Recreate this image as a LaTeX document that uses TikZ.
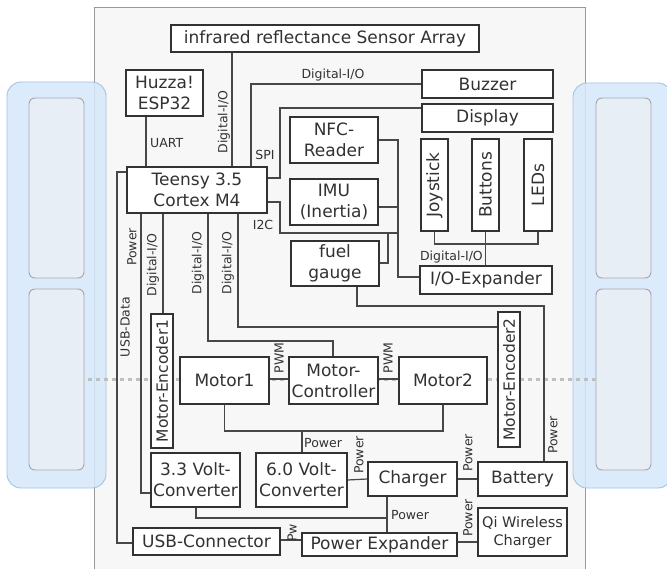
\documentclass[tikz,border=0pt]{standalone}
\usepackage{fontspec}
\setmainfont{DejaVu Sans}
\definecolor{wheelfill}{RGB}{214,232,250}
\definecolor{wheelline}{RGB}{160,196,230}
\definecolor{padfill}{RGB}{232,238,246}
\definecolor{padline}{RGB}{165,165,170}
\definecolor{plate}{RGB}{247,247,247}
\definecolor{ink}{RGB}{50,50,50}
\pgfdeclarelayer{back}
\pgfdeclarelayer{wires}
\pgfsetlayers{back,wires,main}
\begin{document}
\begin{tikzpicture}[x=1pt,y=-1pt,
  blk/.style={draw=ink,line width=1.3pt,fill=white,inner sep=0pt,
    text=ink,font=\fontsize{17}{21}\selectfont,align=center},
  vblk/.style={blk,rotate=90},
  wire/.style={draw=ink!90,line width=1.2pt},
  lbl/.style={text=ink,inner sep=0pt,font=\fontsize{12.5}{15}\selectfont},
  vlbl/.style={lbl,rotate=90},
  pad/.style={draw=padline,line width=0.9pt,fill=padfill,rounded corners=6pt},
  wheel/.style={draw=wheelline,line width=0.9pt,fill=wheelfill,fill opacity=0.85,rounded corners=14pt}]
\useasboundingbox (0,0) rectangle (667,569);

\begin{pgfonlayer}{back}
% chassis plate
\fill[plate] (94.5,7) rectangle (585,572);
\draw[black!40,line width=0.9pt] (94.5,572) -- (94.5,7) -- (585,7) -- (585,572);
% wheels on both sides
\path[wheel] (7,82) rectangle (106,488);
\path[pad] (29,98) rectangle (84,278);
\path[pad] (29,289) rectangle (84,470);
\path[wheel] (573,83) rectangle (672,488);
\path[pad] (596,98) rectangle (651,278);
\path[pad] (596,289) rectangle (651,470);
% axle
\draw[black!25,line width=3pt,dash pattern=on 4pt off 4pt] (88,380) -- (596,380);
\end{pgfonlayer}

% blocks
\node[blk,minimum width=308,minimum height=27] (sensor) at (325,38.5) {infrared reflectance Sensor Array};
\node[blk,minimum width=77,minimum height=46] (huzza) at (164.5,93) {Huzza!\\ESP32};
\node[blk,minimum width=131,minimum height=28] (buzzer) at (487.5,84) {Buzzer};
\node[blk,minimum width=131,minimum height=28] (display) at (487.5,118) {Display};
\node[blk,minimum width=140,minimum height=46] (teensy) at (197,190) {Teensy 3.5\\Cortex M4};
\node[blk,minimum width=88,minimum height=46] (nfc) at (334,140) {NFC-\\Reader};
\node[blk,minimum width=88,minimum height=46] (imu) at (334,202) {IMU\\(Inertia)};
\node[blk,minimum width=88,minimum height=45] (fuel) at (335,263.5) {fuel\\gauge};
\node[vblk,minimum width=92,minimum height=27] (joy) at (434.5,185) {Joystick};
\node[vblk,minimum width=92,minimum height=27] (btn) at (485.5,185) {Buttons};
\node[vblk,minimum width=92,minimum height=28] (led) at (538,185) {LEDs};
\node[blk,minimum width=132,minimum height=28] (ioexp) at (486,280) {I/O-Expander};
\node[vblk,minimum width=134,minimum height=22,font=\fontsize{15.5}{18}\selectfont] (enc1) at (162,381) {Motor-Encoder1};
\node[vblk,minimum width=135,minimum height=22,font=\fontsize{15.5}{18}\selectfont] (enc2) at (509,379.5) {Motor-Encoder2};
\node[blk,minimum width=89,minimum height=47] (motor1) at (224.5,380.5) {Motor1};
\node[blk,minimum width=89,minimum height=47] (mctrl) at (333.5,380.5) {Motor-\\Controller};
\node[blk,minimum width=88,minimum height=47] (motor2) at (443,380.5) {Motor2};
\node[blk,minimum width=89,minimum height=54] (conv33) at (195.5,480) {3.3 Volt-\\Converter};
\node[blk,minimum width=91,minimum height=54] (conv60) at (301.5,480) {6.0 Volt-\\Converter};
\node[blk,minimum width=89,minimum height=34] (charger) at (412.5,479) {Charger};
\node[blk,minimum width=89,minimum height=34] (battery) at (522.5,479) {Battery};
\node[blk,minimum width=89,minimum height=48,font=\fontsize{14.5}{18}\selectfont] (qi) at (522.5,532) {Qi Wireless\\Charger};
\node[blk,minimum width=155,minimum height=23] (pexp) at (379.5,544.5) {Power Expander};
\node[blk,minimum width=147,minimum height=27] (usb) at (206.5,541.5) {USB-Connector};

% bus junction and the sides of the upright encoder blocks
\coordinate (i2cbus) at (398,233);
\path (enc2.center) ++(-11,0) coordinate (enc2left);
\path (enc1.center) ++(0,-67) coordinate (enc1top);

\begin{pgfonlayer}{wires}
% connectors from the Teensy
\draw[wire] (232,0 |- sensor.south) -- (232,0 |- teensy.north);
\draw[wire] (146,0 |- huzza.south) -- (146,0 |- teensy.north);
\draw[wire] (251,0 |- teensy.north) |- (buzzer.west);
\draw[wire] (teensy.east |- 0,178) -| (280,108) -- (display.west |- 0,108);
\draw[wire] (teensy.east |- 0,202) -| (280,233) -- (i2cbus);
\draw[wire] (nfc.east |- 0,140) -| (i2cbus |- 0,277) -- (ioexp.west |- 0,277);
\draw[wire] (imu.east |- 0,207) -- (i2cbus |- 0,207);
\draw[wire] (fuel.east |- 0,263) -| (388,233);
\draw[wire] (joy.center |- 0,231) |- (led.center |- 0,244) -- (led.center |- 0,231);
\draw[wire] (btn.center |- 0,231) -- (btn.center |- ioexp.north);
\draw[wire] (357,0 |- fuel.south) |- (544,306) -- (544,0 |- battery.north);
\draw[wire] (238,0 |- teensy.south) |- (enc2left |- 0,327);
\draw[wire] (208,0 |- teensy.south) |- (333,341) -- (333,0 |- mctrl.north);
\draw[wire] (163,0 |- teensy.south) -- (163,0 |- enc1top);
\draw[wire] (141,0 |- teensy.south) |- (conv33.west |- 0,493);
\draw[wire] (teensy.west |- 0,172) -| (117,543) -- (usb.west |- 0,543);

% drive train
\draw[wire] (motor1.east |- 0,379) -- (mctrl.west |- 0,379);
\draw[wire] (mctrl.east |- 0,379) -- (motor2.west |- 0,379);
\draw[wire] (motor1.south) |- (443,431) -- (motor2.south);
\draw[wire] (302,431) -- (302,0 |- conv60.north);

% power path
\draw[wire] (conv60.east) -- (charger.west);
\draw[wire] (charger.east) -- (battery.west);
\draw[wire] (196,0 |- conv33.south) |- (387,518);
\draw[wire] (387,0 |- charger.south) -- (387,0 |- pexp.north);
\draw[wire] (usb.east |- 0,540) -- (pexp.west |- 0,540);
\draw[wire] (pexp.east |- 0,542) -- (qi.west |- 0,542);
\end{pgfonlayer}

% connector labels
\node[vlbl] at (224,122) {Digital-I/O};
\node[lbl,anchor=west] at (150,143) {UART};
\node[lbl] at (333,75) {Digital-I/O};
\node[lbl] at (265,155) {SPI};
\node[lbl] at (263,225) {I2C};
\node[lbl,anchor=east] at (483,257) {Digital-I/O};
\node[vlbl] at (553,435) {Power};
\node[vlbl] at (132,247) {Power};
\node[vlbl] at (153,265) {Digital-I/O};
\node[vlbl] at (198,263) {Digital-I/O};
\node[vlbl] at (228,263) {Digital-I/O};
\node[vlbl] at (125,327) {USB-Data};
\node[vlbl] at (279,358) {PWM};
\node[vlbl] at (388,358) {PWM};
\node[lbl,anchor=west] at (304,443) {Power};
\node[vlbl] at (359,455) {Power};
\node[vlbl] at (468,453) {Power};
\node[lbl,anchor=west] at (391,515) {Power};
\node[vlbl] at (292,533) {Pw};
\node[vlbl] at (468,518) {Power};
\end{tikzpicture}
\end{document}
